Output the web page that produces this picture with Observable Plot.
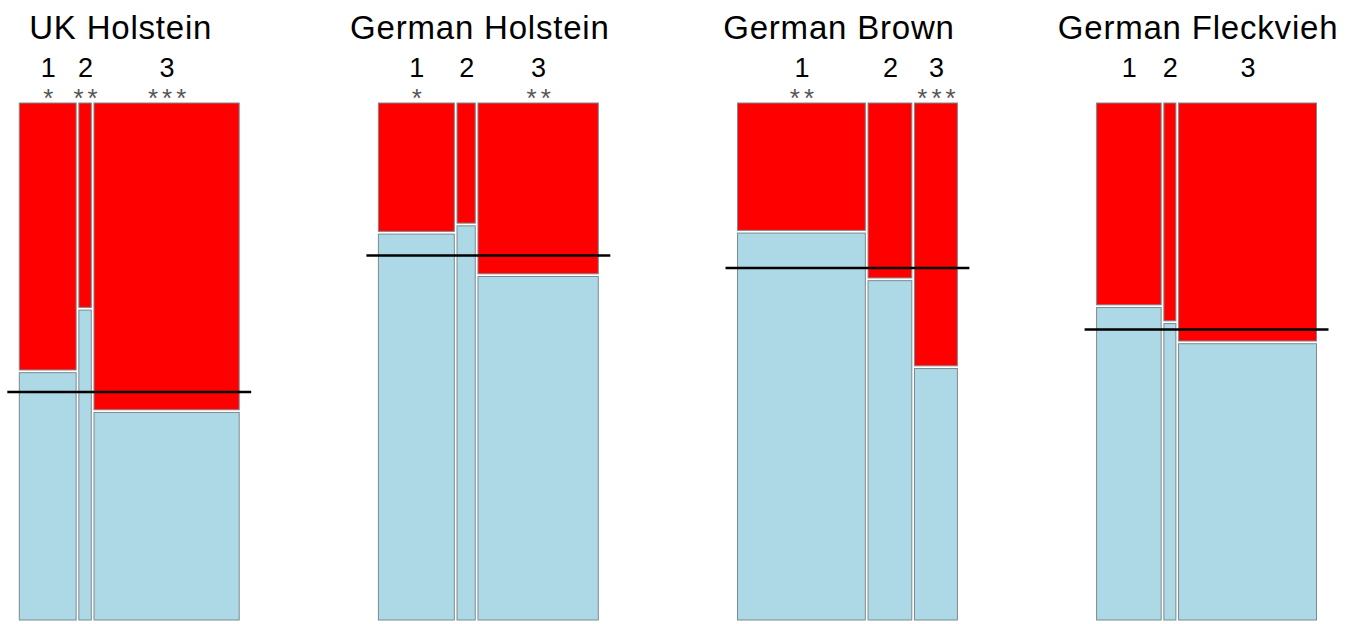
<!DOCTYPE html>
<html>
<head>
<meta charset="utf-8">
<script src="https://cdn.jsdelivr.net/npm/d3@7"></script>
<script src="https://cdn.jsdelivr.net/npm/@observablehq/plot@0.6"></script>
<style>
  html, body { margin: 0; padding: 0; background: #fff; }
  #chart { width: 1352px; height: 624px; }
</style>
</head>
<body>
<div id="chart"></div>
<script>
// ---- data ----
const breeds = ["UK Holstein", "German Holstein", "German Brown", "German Fleckvieh"];
const groupLabels = ["1", "2", "3"];

// relative column widths (share of animals in each group)
const widthUKHolstein      = [0.265, 0.058, 0.677];
const widthGermanHolstein  = [0.354, 0.085, 0.561];
const widthGermanBrown     = [0.596, 0.204, 0.200];
const widthGermanFleckvieh = [0.301, 0.056, 0.643];

// share of the red (upper) category within each group
const redUKHolstein      = [0.519, 0.398, 0.596];
const redGermanHolstein  = [0.251, 0.235, 0.333];
const redGermanBrown     = [0.249, 0.341, 0.511];
const redGermanFleckvieh = [0.393, 0.424, 0.463];

// overall share of the red category per breed (horizontal line)
const overallRed = [0.558, 0.294, 0.318, 0.437];

// significance stars per group
const starsUKHolstein      = ["*", "**", "***"];
const starsGermanHolstein  = ["*", "", "**"];
const starsGermanBrown     = ["**", "", "***"];
const starsGermanFleckvieh = ["", "", ""];

const widths = [widthUKHolstein, widthGermanHolstein, widthGermanBrown, widthGermanFleckvieh];
const reds = [redUKHolstein, redGermanHolstein, redGermanBrown, redGermanFleckvieh];
const stars = [starsUKHolstein, starsGermanHolstein, starsGermanBrown, starsGermanFleckvieh];

// ---- layout constants ----
const W = 1352, H = 624;
const PX_PER_UNIT = 214.5;          // pixels per unit of column width
const GAP = 2.7 / PX_PER_UNIT;      // gap between columns
const PANEL_STEP = 359.1 / PX_PER_UNIT;
const LEFT_PAD = 19.3 / PX_PER_UNIT;
const LINE_EXT = 12 / PX_PER_UNIT;

// ---- build mosaic cells ----
const cells = [];
const panels = [];
breeds.forEach((breed, i) => {
  const start = i * PANEL_STEP;
  let cum = 0;
  widths[i].forEach((w, j) => {
    const x1 = start + cum + j * GAP;
    cells.push({breed, group: groupLabels[j], x1, x2: x1 + w, red: reds[i][j], star: stars[i][j]});
    cum += w;
  });
  const end = start + cum + (widths[i].length - 1) * GAP;
  panels.push({breed, start, end, overall: overallRed[i]});
});

const font = "'Liberation Sans', Arial, Helvetica, sans-serif";
const cellStroke = "#7d8a8f";

const plot = Plot.plot({
  width: W,
  height: H,
  marginTop: 103,
  marginBottom: 4,
  marginLeft: 0,
  marginRight: 0,
  style: {fontFamily: font, background: "#fff", overflow: "visible"},
  x: {axis: null, domain: [-LEFT_PAD, W / PX_PER_UNIT - LEFT_PAD], range: [0, W]},
  y: {axis: null, domain: [0, 1], reverse: true},
  marks: [
    Plot.rect(cells, {x1: "x1", x2: "x2", y1: 0, y2: "red", fill: "#ff0000", stroke: cellStroke, strokeWidth: 1, insetBottom: 1.35}),
    Plot.rect(cells, {x1: "x1", x2: "x2", y1: "red", y2: 1, fill: "#add8e6", stroke: cellStroke, strokeWidth: 1, insetTop: 1.35}),
    Plot.ruleY(panels, {y: "overall", x1: d => d.start - LINE_EXT, x2: d => d.end + LINE_EXT, stroke: "#000", strokeWidth: 2.5}),
    Plot.text(panels, {x: d => (d.start + d.end) / 2, text: "breed", frameAnchor: "top", lineAnchor: "bottom", dy: -65, dx: -9, fontSize: 33, fill: "#000"}),
    Plot.text(cells, {x: d => (d.x1 + d.x2) / 2, text: "group", frameAnchor: "top", lineAnchor: "bottom", dy: -27, fontSize: 27, fill: "#000"}),
    Plot.text(cells, {x: d => (d.x1 + d.x2) / 2, text: "star", frameAnchor: "top", lineAnchor: "bottom", dy: 3, dx: 2, fontSize: 26, fill: "#555"})
  ]
});

d3.select(plot).selectAll('g[font-size="33"]').style("letter-spacing", "0.8px");
d3.select(plot).selectAll('g[font-size="26"]').style("letter-spacing", "4px");
document.getElementById("chart").appendChild(plot);
</script>
</body>
</html>
